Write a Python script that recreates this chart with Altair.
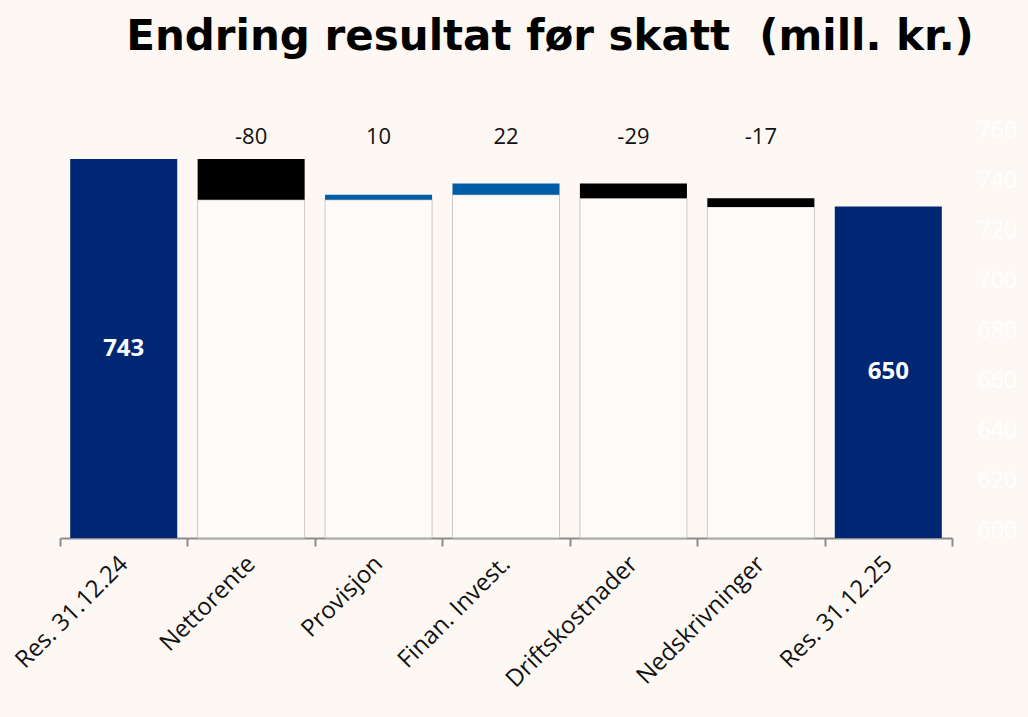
import altair as alt
import pandas as pd

# Waterfall: profit before tax, change by driver (NOK million)
categories = ["Res. 31.12.24", "Nettorente", "Provisjon", "Finan. Invest.",
              "Driftskostnader", "Nedskrivninger", "Res. 31.12.25"]
values = [743, -80, 10, 22, -29, -17, 650]
kinds = ["total", "delta", "delta", "delta", "delta", "delta", "total"]
right_ticks = [600, 620, 640, 660, 680, 700, 720, 740, 760]

BG = "#FDF8F4"
NAVY = "#002773"
BLUE = "#005CA5"
LABEL_LEVEL = 786
BAR_BAND = alt.RelativeBandSize(0.84)

rows = []
level = 0
for cat, val, kind in zip(categories, values, kinds):
    if kind == "total":
        lo, hi = 0, val
        level = val
        color = NAVY
    else:
        lo, hi = level, level + val
        level = level + val
        color = BLUE if val > 0 else "#000000"
    rows.append({
        "cat": cat, "value": val, "kind": kind,
        "lo": min(lo, hi), "hi": max(lo, hi), "zero": 0,
        "mid": (lo + hi) / 2, "color": color,
        "label": str(val), "label_y": LABEL_LEVEL,
    })
df = pd.DataFrame(rows)
deltas = df[df["kind"] == "delta"]
totals = df[df["kind"] == "total"]


def yscale():
    return alt.Scale(domain=[0, 800], nice=False, zero=True)


x_enc = alt.X(
    "cat:N", sort=categories, title=None,
    scale=alt.Scale(paddingInner=0, paddingOuter=0),
    axis=alt.Axis(
        labelAngle=-45, labelAlign="right", labelBaseline="middle",
        labelFontSize=24, labelFont="Open Sans", labelColor="#111111",
        labelPadding=14, tickBand="extent", tickSize=8, tickWidth=2,
        tickColor="#8c8c8c", domainColor="#8c8c8c", domainWidth=2,
    ),
)

# supporting columns under each floating step
base = alt.Chart(deltas).mark_bar(
    width=BAR_BAND, fill="#FFFFFF", fillOpacity=0.35,
    stroke="#c9c9c9", strokeWidth=1,
).encode(
    x=x_enc,
    y=alt.Y("lo:Q", scale=yscale(), axis=None),
    y2="zero:Q",
)

steps = alt.Chart(df).mark_bar(width=BAR_BAND).encode(
    x=x_enc,
    y=alt.Y("lo:Q", scale=yscale(), axis=None),
    y2="hi:Q",
    color=alt.Color("color:N", scale=None),
)

delta_labels = alt.Chart(deltas).mark_text(
    fontSize=22, font="Open Sans", color="#111111", baseline="middle"
).encode(
    x=x_enc,
    y=alt.Y("label_y:Q", scale=yscale(), axis=None),
    text="label:N",
)

total_labels = alt.Chart(totals).mark_text(
    fontSize=24, font="Open Sans", fontWeight="bold", color="#FFFFFF",
    baseline="middle",
).encode(
    x=x_enc,
    y=alt.Y("mid:Q", scale=yscale(), axis=None),
    text="label:N",
)

# secondary value axis on the right
right = alt.Chart(pd.DataFrame({"v": right_ticks})).mark_point(opacity=0).encode(
    y=alt.Y(
        "v:Q",
        scale=alt.Scale(domain=[596.8, 760], nice=False, zero=False),
        axis=alt.Axis(
            orient="right", values=right_ticks, grid=False, domain=False,
            ticks=False, labelColor="#FFFFFF", labelFontSize=23,
            labelFont="Open Sans", labelPadding=25, title=None,
        ),
    ),
)

chart = alt.layer(base, steps, delta_labels, total_labels, right).resolve_scale(
    y="independent"
).properties(
    width=892,
    height=408,
    autosize=alt.AutoSizeParams(type="none"),
    padding={"left": 60, "top": 130, "right": 76, "bottom": 179},
    background=BG,
    title=alt.TitleParams(
        "Endring resultat før skatt \u00a0(mill. kr.)",
        font="DejaVu Sans", fontSize=42, fontWeight="bold", color="#000000",
        anchor="middle", dx=44, offset=27, baseline="alphabetic",
    ),
).configure_view(stroke=None)

chart.save("out.html", embed_options={"renderer": "svg", "actions": False})
